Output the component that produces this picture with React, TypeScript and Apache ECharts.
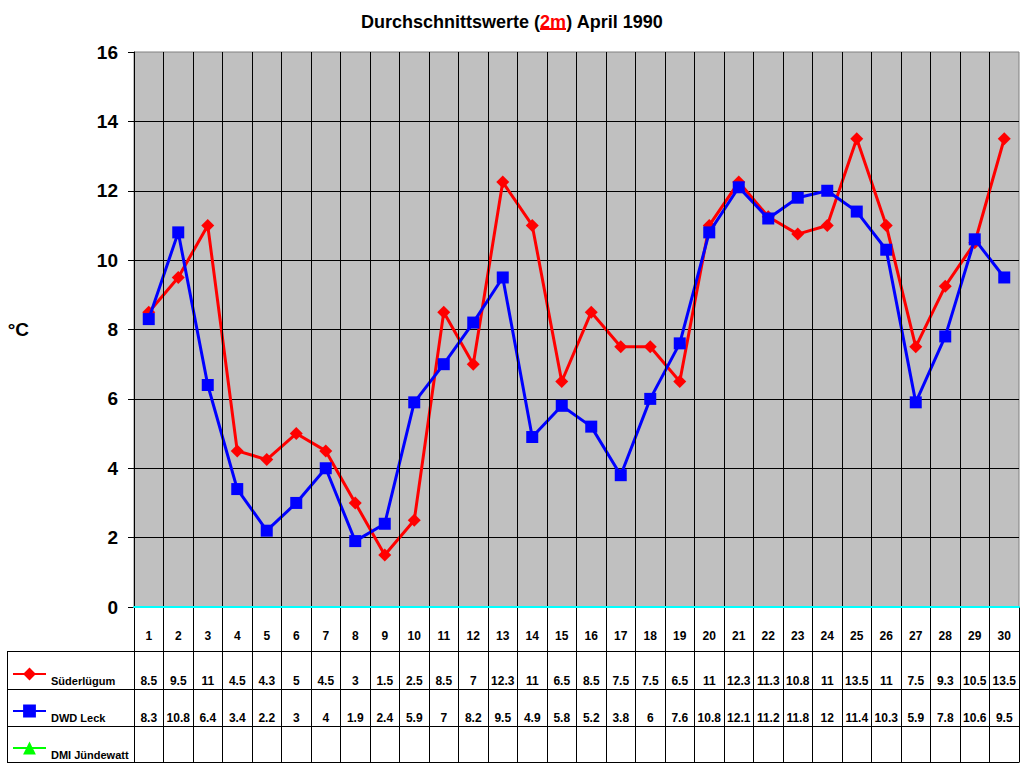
import React, { useEffect, useRef } from 'react';
import * as echarts from 'echarts';

const FONT = '"Liberation Sans", Arial, sans-serif';

const days = ['1', '2', '3', '4', '5', '6', '7', '8', '9', '10', '11', '12', '13', '14', '15',
  '16', '17', '18', '19', '20', '21', '22', '23', '24', '25', '26', '27', '28', '29', '30'];

const suederluegum = [8.5, 9.5, 11, 4.5, 4.25, 5, 4.5, 3, 1.5, 2.5, 8.5, 7, 12.25, 11, 6.5,
  8.5, 7.5, 7.5, 6.5, 11, 12.25, 11.25, 10.75, 11, 13.5, 11, 7.5, 9.25, 10.5, 13.5];

const dwdLeck = [8.3, 10.8, 6.4, 3.4, 2.2, 3, 4, 1.9, 2.4, 5.9, 7, 8.2, 9.5, 4.9, 5.8,
  5.2, 3.8, 6, 7.6, 10.8, 12.1, 11.2, 11.8, 12, 11.4, 10.3, 5.9, 7.8, 10.6, 9.5];

// no readings for this station
const dmiJuendewatt: number[] = [];

const seriesNames = ['Süderlügum', 'DWD Leck', 'DMI Jündewatt'];

const titleParts = ['Durchschnittswerte (', '2m', ') April 1990'];

// layout of plot and table below it
const PLOT_LEFT = 134;
const PLOT_RIGHT = 1019;
const PLOT_TOP = 52;
const PLOT_BOTTOM = 607;
const TABLE_LEFT = 7;
const TABLE_ROWS = [651.5, 689.5, 726.5, 762.5];
const DAY_ROW_Y = 636;
const VALUE_ROW_Y = [681, 718];
const LEGEND_TOPS = [660, 697, 734];
const TITLE_SIZE = 18;

const fmt = (v: number | undefined) =>
  v === undefined || v === null ? '' : String(parseFloat(v.toFixed(1)));

const cellText = (x: number, y: number, text: string) => ({
  type: 'text',
  x,
  y,
  silent: true,
  style: {
    text,
    fill: '#000',
    font: `bold 12px ${FONT}`,
    align: 'center',
    verticalAlign: 'middle'
  }
});

const measure = (text: string, font: string) => {
  const ctx = document.createElement('canvas').getContext('2d');
  if (!ctx) return text.length * 9;
  ctx.font = font;
  return ctx.measureText(text).width;
};

export default function App() {
  const chartRef = useRef<HTMLDivElement>(null);

  useEffect(() => {
    if (!chartRef.current) return;
    const chart = echarts.init(chartRef.current, undefined, { renderer: 'svg' });

    const titleStyle = { fontSize: TITLE_SIZE, fontWeight: 'bold', fontFamily: FONT };

    // one legend per table row, so each sits in its own row
    const legends = seriesNames.map((name, i) => ({
      orient: 'vertical',
      left: 12,
      top: LEGEND_TOPS[i],
      padding: 0,
      itemWidth: 33,
      itemHeight: 16,
      selectedMode: false,
      data: [name],
      formatter: (n: string) => `\n${n}`,
      textStyle: {
        fontSize: 11,
        lineHeight: 14,
        fontWeight: 'bold',
        fontFamily: FONT,
        color: '#000'
      }
    }));

    const option: any = {
      animation: false,
      backgroundColor: '#FFFFFF',
      title: {
        text: `{a|${titleParts[0]}}{r|${titleParts[1]}}{a|${titleParts[2]}}`,
        left: 'center',
        top: 8,
        textStyle: {
          rich: {
            a: { ...titleStyle, color: '#000' },
            r: { ...titleStyle, color: '#FF0000' }
          }
        }
      },
      legend: legends,
      grid: [
        {
          left: PLOT_LEFT,
          right: 1024 - PLOT_RIGHT,
          top: PLOT_TOP,
          bottom: 768 - PLOT_BOTTOM,
          show: true,
          backgroundColor: '#C0C0C0',
          borderColor: '#808080',
          borderWidth: 1
        },
        {
          left: PLOT_LEFT,
          right: 1024 - PLOT_RIGHT,
          top: PLOT_BOTTOM,
          bottom: 768 - TABLE_ROWS[3]
        }
      ],
      xAxis: [
        {
          type: 'category',
          gridIndex: 0,
          data: days,
          boundaryGap: true,
          z: 5,
          axisLine: { show: true, onZero: false, lineStyle: { color: '#00FFFF', width: 2 } },
          axisTick: { show: false },
          axisLabel: { show: false },
          splitLine: {
            show: true,
            showMinLine: false,
            showMaxLine: false,
            lineStyle: { color: '#000', width: 1 }
          }
        },
        {
          type: 'category',
          gridIndex: 1,
          data: days,
          boundaryGap: true,
          axisLine: { show: false },
          axisTick: { show: false },
          axisLabel: { show: false },
          splitLine: { show: true, lineStyle: { color: '#000', width: 1 } }
        }
      ],
      yAxis: [
        {
          type: 'value',
          gridIndex: 0,
          min: 0,
          max: 16,
          interval: 2,
          name: '°C',
          nameLocation: 'middle',
          nameRotate: 0,
          nameGap: 105,
          nameTextStyle: { fontSize: 19, fontWeight: 'bold', fontFamily: FONT, color: '#000' },
          axisLine: { show: true, lineStyle: { color: '#000', width: 1 } },
          axisTick: { show: true, inside: false, length: 6, lineStyle: { color: '#000' } },
          axisLabel: { fontSize: 19, fontWeight: 'bold', fontFamily: FONT, color: '#000', margin: 16 },
          splitLine: {
            show: true,
            showMinLine: false,
            showMaxLine: false,
            lineStyle: { color: '#000', width: 1 }
          }
        },
        { type: 'value', gridIndex: 1, show: false }
      ],
      series: [
        {
          name: seriesNames[0],
          type: 'line',
          data: suederluegum,
          color: '#FF0000',
          lineStyle: { width: 3, color: '#FF0000' },
          itemStyle: { color: '#FF0000' },
          symbol: 'diamond',
          symbolSize: 13,
          z: 3
        },
        {
          name: seriesNames[1],
          type: 'line',
          data: dwdLeck,
          color: '#0000FF',
          lineStyle: { width: 3, color: '#0000FF' },
          itemStyle: { color: '#0000FF' },
          symbol: 'rect',
          symbolSize: 12,
          z: 4
        },
        {
          name: seriesNames[2],
          type: 'line',
          data: dmiJuendewatt,
          color: '#00FF00',
          lineStyle: { width: 3, color: '#00FF00' },
          itemStyle: { color: '#00FF00' },
          symbol: 'triangle',
          symbolSize: 12,
          z: 4
        }
      ]
    };

    chart.setOption(option);

    // table texts, placed at the category positions of the x axis
    const xs = days.map((_, i) => chart.convertToPixel({ xAxisIndex: 0 }, i) as number);
    const graphic: any[] = [];
    days.forEach((d, i) => {
      graphic.push(cellText(xs[i], DAY_ROW_Y, d));
      graphic.push(cellText(xs[i], VALUE_ROW_Y[0], fmt(suederluegum[i])));
      graphic.push(cellText(xs[i], VALUE_ROW_Y[1], fmt(dwdLeck[i])));
    });
    TABLE_ROWS.forEach((y) => {
      graphic.push({
        type: 'line',
        silent: true,
        shape: { x1: TABLE_LEFT, y1: y, x2: PLOT_RIGHT, y2: y },
        style: { stroke: '#000', lineWidth: 1 }
      });
    });
    graphic.push({
      type: 'line',
      silent: true,
      shape: { x1: TABLE_LEFT + 0.5, y1: TABLE_ROWS[0], x2: TABLE_LEFT + 0.5, y2: TABLE_ROWS[3] },
      style: { stroke: '#000', lineWidth: 1 }
    });
    // underline of the red "2m" in the title
    const titleFont = `bold ${TITLE_SIZE}px ${FONT}`;
    const widths = titleParts.map((t) => measure(t, titleFont));
    const total = widths[0] + widths[1] + widths[2];
    graphic.push({
      type: 'rect',
      silent: true,
      shape: { x: 512 - total / 2 + widths[0], y: 28, width: widths[1], height: 2 },
      style: { fill: '#FF0000' }
    });
    chart.setOption({ graphic });

    return () => {
      chart.dispose();
    };
  }, []);

  return (
    <div
      ref={chartRef}
      style={{ position: 'absolute', left: 0, top: 0, width: '1024px', height: '768px' }}
    />
  );
}
